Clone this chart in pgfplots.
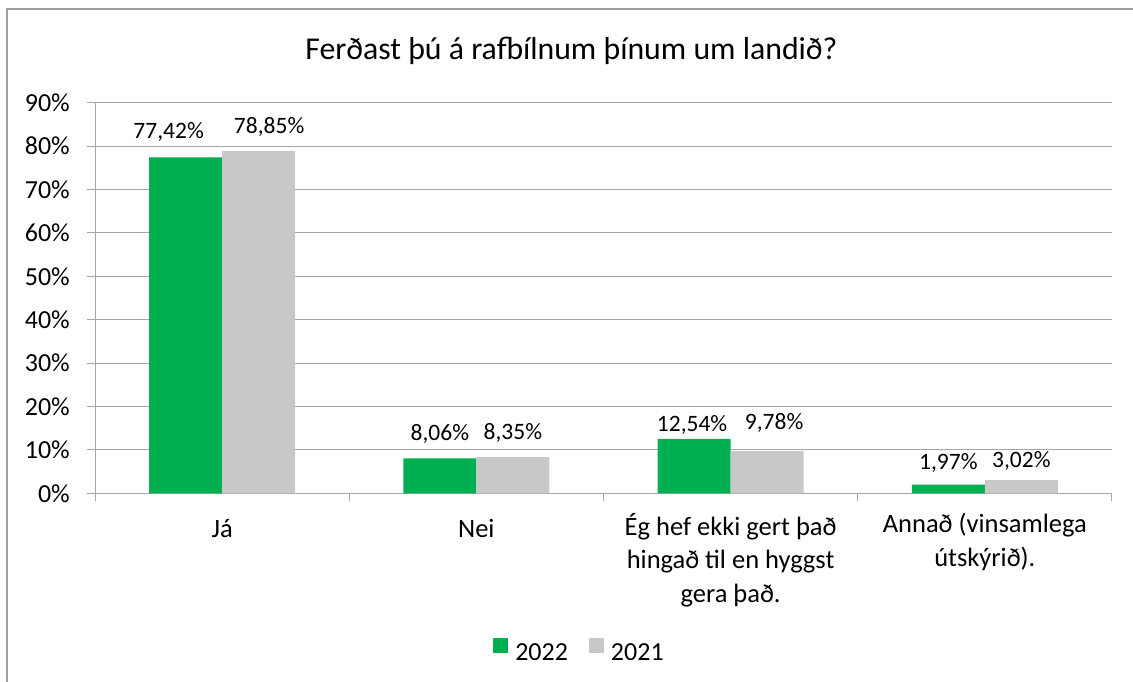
\documentclass[border=0pt]{standalone}
\usepackage{pgfplots}
\pgfplotsset{compat=1.18}
\usepackage{fontspec}
\setmainfont{Carlito}
\definecolor{bargreen}{RGB}{0,176,80}
\definecolor{bargray}{RGB}{200,200,200}
\definecolor{gridgray}{RGB}{166,166,166}
\definecolor{framegray}{RGB}{160,160,160}
\begin{document}
\begin{tikzpicture}[x=1pt,y=1pt]
\path[use as bounding box] (0,0) rectangle (1133,682);
\draw[framegray, line width=1.3pt] (7,-5) -- (7,673) -- (1140,673);
\node[anchor=base, font=\fontsize{31.8}{38}\selectfont] at (571.5,622) {Ferðast þú á rafbílnum þínum um landið?};
\begin{axis}[
  at={(95pt,188.7pt)}, anchor=south west,
  scale only axis, width=1017pt, height=390.6pt,
  ybar=0pt, bar width=73pt,
  xmin=-0.5, xmax=3.5, ymin=0, ymax=90,
  axis x line*=bottom, axis y line*=left,
  axis line style={gridgray, line width=1pt},
  every axis plot/.append style={draw=none},
  ytick={0,10,...,90},
  yticklabel={\pgfmathprintnumber{\tick}\%},
  /pgf/number format/assume math mode=true,
  ymajorgrids, major grid style={gridgray, line width=1pt},
  tick align=outside,
  major tick length=8pt, minor tick length=8pt,
  y tick style={gridgray, line width=1pt},
  x tick style={gridgray, line width=1pt},
  xtick={0,1,2,3},
  major x tick style={draw=none},
  minor xtick={-0.5,0.5,1.5,2.5,3.5},
  xticklabels={Já, Nei, {Ég hef ekki gert það\\hingað til en hyggst\\gera það.}, {Annað (vinsamlega\\útskýrið).}},
  xticklabel style={font=\fontsize{26.5}{33.3}\selectfont, align=center, anchor=north, inner sep=0pt, yshift=-12pt,
    execute at begin node={\rule{0pt}{24pt}}},
  yticklabel style={font=\fontsize{26}{31}\selectfont, anchor=east, inner sep=0pt, xshift=-17pt},
  nodes near coords={\pgfmathprintnumber[fixed,fixed zerofill,precision=2,use comma]{\pgfplotspointmeta}\%},
  visualization depends on={\thisrow{dx} \as \labdx},
  visualization depends on={\thisrow{dy} \as \labdy},
  nodes near coords style={font=\fontsize{23.5}{28}\selectfont, anchor=base, inner sep=0pt, xshift=\labdx pt, yshift=\labdy pt, text=black},
  legend columns=2,
  legend image code/.code={\fill[#1] (0pt,0pt) rectangle (15pt,15pt);},
  legend style={draw=none, fill=none, at={(0.4754,-0.4012)}, anchor=center,
    font=\fontsize{26}{31}\selectfont,
    nodes={inner sep=0pt},
    /tikz/every odd column/.append style={column sep=7pt},
    /tikz/every even column/.append style={column sep=21pt}},
]
\addplot[fill=bargreen] table {
x y dx dy
0 77.42 -17 18.4
1 8.06 0 17.7
2 12.54 -2 7.3
3 1.97 0 15
};
\addplot[fill=bargray] table {
x y dx dy
0 78.85 10.5 17.7
1 8.35 0 17.8
2 9.78 7 21.7
3 3.02 0 12.4
};
\legend{2022,2021}
\end{axis}
\end{tikzpicture}
\end{document}
